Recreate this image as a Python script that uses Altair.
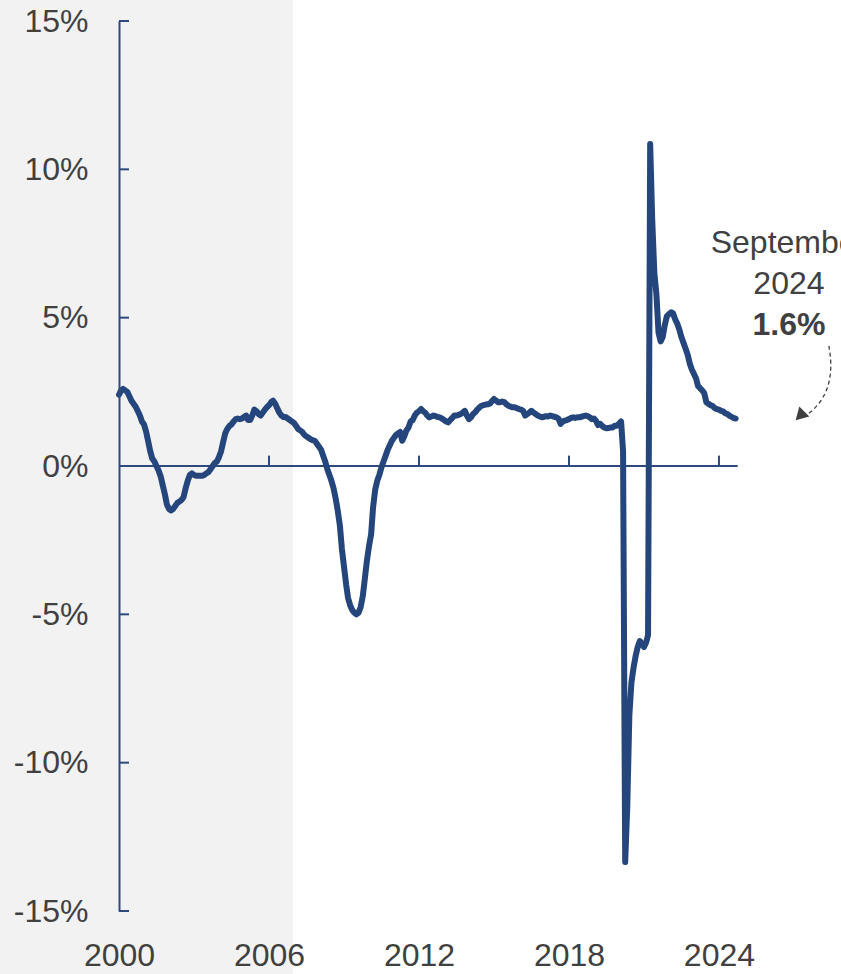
import altair as alt
import pandas as pd

# Year-over-year growth (%), monthly
v2000 = [2.4, 2.55, 2.6, 2.55, 2.5, 2.35, 2.2, 2.1, 2.0, 1.85, 1.7, 1.5]
v2001 = [1.4, 1.15, 0.85, 0.5, 0.25, 0.15, 0.0, -0.15, -0.35, -0.65, -0.95, -1.3]
v2002 = [-1.45, -1.5, -1.45, -1.35, -1.25, -1.2, -1.15, -1.05, -0.75, -0.5, -0.3, -0.25]
v2003 = [-0.3, -0.33, -0.33, -0.33, -0.33, -0.3, -0.25, -0.2, -0.1, 0.0, 0.1, 0.15]
v2004 = [0.3, 0.5, 0.8, 1.1, 1.25, 1.35, 1.4, 1.5, 1.58, 1.6, 1.58, 1.6]
v2005 = [1.65, 1.7, 1.55, 1.55, 1.7, 1.9, 1.85, 1.75, 1.7, 1.8, 1.9, 1.98]
v2006 = [2.05, 2.15, 2.2, 2.1, 1.95, 1.8, 1.7, 1.65, 1.65, 1.6, 1.55, 1.5]
v2007 = [1.45, 1.35, 1.25, 1.2, 1.15, 1.05, 1.0, 0.95, 0.9, 0.87, 0.85, 0.75]
v2008 = [0.65, 0.55, 0.35, 0.15, -0.1, -0.3, -0.5, -0.75, -1.1, -1.5, -2.0, -2.8]
v2009 = [-3.4, -4.0, -4.45, -4.7, -4.85, -4.95, -5.0, -4.95, -4.75, -4.4, -3.8, -3.2]
v2010 = [-2.7, -2.3, -1.4, -0.8, -0.5, -0.3, -0.05, 0.15, 0.35, 0.55, 0.7, 0.85]
v2011 = [0.95, 1.05, 1.1, 1.15, 0.85, 1.0, 1.2, 1.3, 1.5, 1.55, 1.7, 1.8]
v2012 = [1.85, 1.92, 1.85, 1.8, 1.7, 1.64, 1.67, 1.7, 1.68, 1.65, 1.64, 1.6]
v2013 = [1.55, 1.5, 1.47, 1.55, 1.62, 1.7, 1.7, 1.72, 1.75, 1.8, 1.86, 1.7]
v2014 = [1.58, 1.65, 1.75, 1.81, 1.9, 1.97, 2.03, 2.05, 2.07, 2.08, 2.1, 2.18]
v2015 = [2.26, 2.2, 2.15, 2.15, 2.17, 2.15, 2.08, 2.03, 2.0, 1.98, 1.98, 1.95]
v2016 = [1.92, 1.9, 1.86, 1.7, 1.75, 1.8, 1.86, 1.8, 1.75, 1.7, 1.67, 1.64]
v2017 = [1.66, 1.68, 1.67, 1.7, 1.68, 1.66, 1.64, 1.6, 1.42, 1.5, 1.53, 1.55]
v2018 = [1.58, 1.62, 1.64, 1.62, 1.64, 1.64, 1.66, 1.68, 1.7, 1.68, 1.64, 1.58]
v2019 = [1.6, 1.52, 1.38, 1.42, 1.35, 1.3, 1.27, 1.28, 1.3, 1.3, 1.36, 1.36]
v2020 = [1.42, 1.5, 0.5, -13.35, -11.5, -8.4, -7.3, -6.8, -6.4, -6.1, -5.9, -6.0]
v2021 = [-6.1, -5.95, -5.7, 10.85, 8.3, 6.5, 5.8, 4.5, 4.2, 4.35, 4.75, 5.05]
v2022 = [5.12, 5.18, 5.15, 4.95, 4.8, 4.6, 4.35, 4.15, 3.95, 3.75, 3.45, 3.25]
v2023 = [3.1, 2.95, 2.7, 2.62, 2.55, 2.45, 2.15, 2.1, 2.05, 2.02, 1.95, 1.92]
v2024 = [1.9, 1.86, 1.84, 1.78, 1.75, 1.7, 1.66, 1.62, 1.6]

years = list(range(2000, 2025))
series = [v2000, v2001, v2002, v2003, v2004, v2005, v2006, v2007, v2008, v2009,
          v2010, v2011, v2012, v2013, v2014, v2015, v2016, v2017, v2018, v2019,
          v2020, v2021, v2022, v2023, v2024]

y_ticks = [-15, -10, -5, 0, 5, 10, 15]
x_tick_years = [2000, 2006, 2012, 2018, 2024]
x_inner_tick_years = [2006, 2012, 2018, 2024]

shade_end = ["2006-12-15T00:00:00"]
zero_start = ["2000-01-01T00:00:00"]
zero_end = ["2024-10-01T00:00:00"]

ann_lines = ["September", "2024", "1.6%"]
ann_dates = ["2026-10-20T00:00:00", "2026-10-20T00:00:00", "2026-10-20T00:00:00"]
ann_values = [7.52, 6.13, 4.75]
ann_weights = ["normal", "normal", "bold"]

arrow_dates = ["2028-05-25T00:00:00", "2028-07-01T00:00:00", "2028-06-10T00:00:00",
               "2028-03-01T00:00:00", "2027-10-01T00:00:00", "2027-07-01T00:00:00"]
arrow_values = [4.05, 3.5, 2.82, 2.26, 1.86, 1.72]
head_date = ["2027-04-20T00:00:00"]
head_value = [1.74]

BLUE = "#24467d"
AXIS_BLUE = "#2e4a7d"
TEXT = "#404040"
FONT = "Liberation Sans"

rows = []
for yr, vals in zip(years, series):
    for m, v in enumerate(vals):
        rows.append({"date": f"{yr}-{m + 1:02d}-01T00:00:00", "value": v})
df = pd.DataFrame(rows)

xscale = alt.Scale(domain=[alt.DateTime(year=2000, month=1, date=1),
                           alt.DateTime(year=2025, month=1, date=1)])
yscale = alt.Scale(domain=[-15, 15], nice=False, zero=False)

shade = alt.Chart(pd.DataFrame({"end": shade_end})).mark_rect(color="#f2f2f2").encode(
    x=alt.X("end:T", scale=xscale),
    x2=alt.value(-119),
    y=alt.value(-21),
    y2=alt.value(953),
)

zero = alt.Chart(pd.DataFrame({"s": zero_start, "e": zero_end, "z": [0]})).mark_rule(
    color=AXIS_BLUE, strokeWidth=2).encode(
    x=alt.X("s:T", scale=xscale),
    x2="e:T",
    y=alt.Y("z:Q", scale=yscale),
)

xt = alt.Chart(pd.DataFrame({"d": [f"{y}-01-01T00:00:00" for y in x_inner_tick_years],
                             "lo": [0] * 4, "hi": [0.35] * 4})).mark_rule(
    color=AXIS_BLUE, strokeWidth=2).encode(
    x=alt.X("d:T", scale=xscale),
    y=alt.Y("lo:Q", scale=yscale),
    y2="hi:Q",
)

yt = alt.Chart(pd.DataFrame({"t": y_ticks})).mark_rule(color=AXIS_BLUE, strokeWidth=2).encode(
    y=alt.Y("t:Q", scale=yscale),
    x=alt.value(0),
    x2=alt.value(10),
)

line = alt.Chart(df).mark_line(color=BLUE, strokeWidth=6, strokeCap="round",
                               strokeJoin="round").encode(
    x=alt.X("date:T", scale=xscale, title=None,
            axis=alt.Axis(values=[alt.DateTime(year=y, month=1, date=1) for y in x_tick_years],
                          format="%Y", domain=False, ticks=False, grid=False,
                          labelPadding=29, labelFontSize=32, labelFont=FONT,
                          labelColor=TEXT, labelFlush=False, labelOverlap=False, zindex=1)),
    y=alt.Y("value:Q", scale=yscale, title=None,
            axis=alt.Axis(values=y_ticks, labelExpr="datum.value + '%'",
                          domain=True, domainColor=AXIS_BLUE, domainWidth=2,
                          ticks=False, grid=False, labelPadding=31, labelFontSize=32,
                          labelFont=FONT, labelColor=TEXT, labelOverlap=False, zindex=1)),
)

ann_df = pd.DataFrame({"d": ann_dates, "v": ann_values, "t": ann_lines, "w": ann_weights})
ann_normal = alt.Chart(ann_df[ann_df["w"] == "normal"]).mark_text(
    font=FONT, fontSize=32, color=TEXT, align="center", baseline="middle").encode(
    x=alt.X("d:T", scale=xscale), y=alt.Y("v:Q", scale=yscale), text="t:N")
ann_bold = alt.Chart(ann_df[ann_df["w"] == "bold"]).mark_text(
    font=FONT, fontSize=32, color=TEXT, fontWeight="bold", align="center",
    baseline="middle").encode(
    x=alt.X("d:T", scale=xscale), y=alt.Y("v:Q", scale=yscale), text="t:N")

arrow = alt.Chart(pd.DataFrame({"d": arrow_dates, "v": arrow_values,
                                "i": list(range(len(arrow_dates)))})).mark_line(
    color=TEXT, strokeWidth=1.3, strokeDash=[4, 3], interpolate="basis").encode(
    x=alt.X("d:T", scale=xscale), y=alt.Y("v:Q", scale=yscale), order="i:Q")

head = alt.Chart(pd.DataFrame({"d": head_date, "v": head_value})).mark_point(
    shape="triangle", filled=True, color=TEXT, size=200, angle=345, opacity=1).encode(
    x=alt.X("d:T", scale=xscale), y=alt.Y("v:Q", scale=yscale))

chart = alt.layer(shade, zero, xt, yt, line, arrow, head, ann_normal, ann_bold).properties(
    width=625, height=890,
    autosize=alt.AutoSizeParams(type="none"),
    padding={"left": 119, "top": 21, "right": 97, "bottom": 63},
    background="white",
).configure_view(stroke=None)

chart.save("out.html", embed_options={"renderer": "svg", "actions": False})
